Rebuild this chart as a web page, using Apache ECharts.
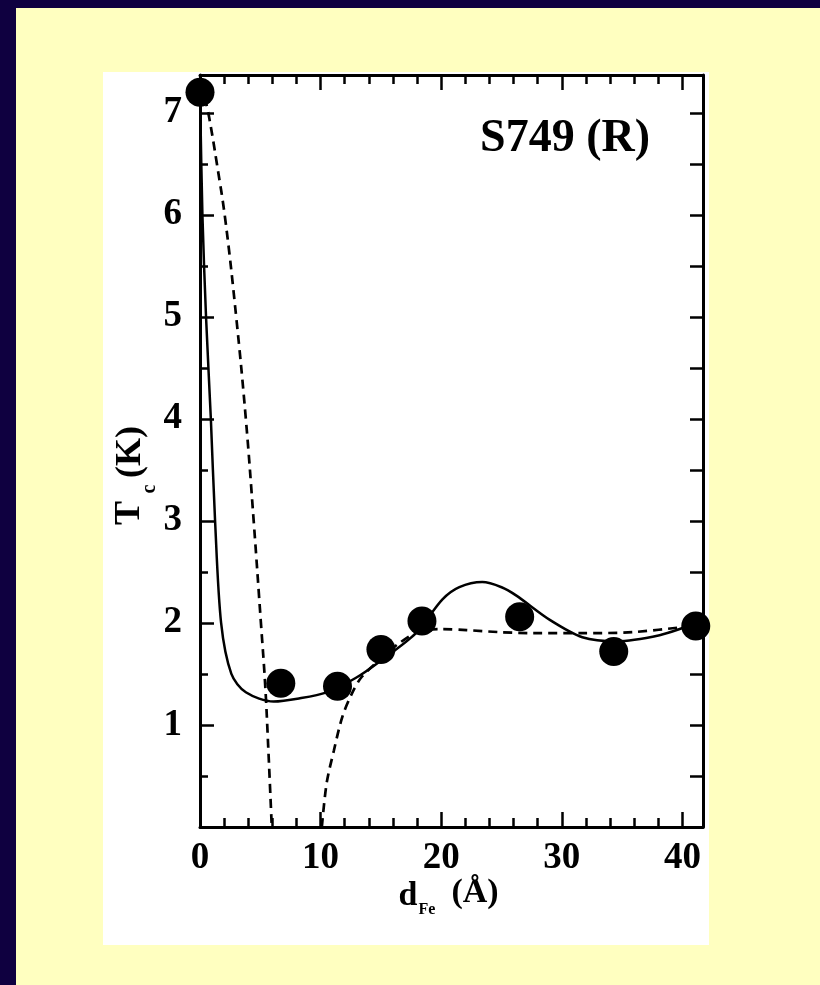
<!DOCTYPE html>
<html>
<head>
<meta charset="utf-8">
<script src="https://cdn.jsdelivr.net/npm/echarts@6/dist/echarts.min.js"></script>
<style>
  html, body { margin: 0; padding: 0; width: 820px; height: 985px; background: #0f0040; overflow: hidden; }
  .paper { position: absolute; left: 16px; top: 8px; right: 0; bottom: 0; background: #ffffc0; }
  .sheet { position: absolute; left: 103px; top: 72px; width: 606px; height: 873px; background: #ffffff; }
  #chart { position: absolute; left: 0; top: 0; width: 820px; height: 985px; }
</style>
</head>
<body>
<div class="paper"></div>
<div class="sheet"></div>
<div id="chart"></div>
<script>
// measured Tc points (d_Fe in Angstrom, Tc in K)
var dFe = [0, 6.7, 11.4, 15.0, 18.4, 26.5, 34.3, 41.1];
var tc = [7.2, 1.41, 1.38, 1.74, 2.02, 2.06, 1.72, 1.97];

// solid theory curve
var fitX = [0, 0.2, 0.5, 0.9, 1.25, 1.75, 2.6, 3.8, 6.1, 8.2, 10.5, 12.9, 15.1, 17.9, 20.1, 21.5, 23.4, 25.0, 26.2, 29.0, 31.7, 34.5, 38.1, 40.8, 41.7];
var fitY = [7.2, 6.0, 5.0, 4.0, 3.0, 2.0, 1.5, 1.32, 1.23, 1.26, 1.32, 1.46, 1.64, 1.9, 2.23, 2.35, 2.40, 2.35, 2.27, 2.03, 1.86, 1.82, 1.88, 1.98, 2.0];

// dashed curve, left branch
var dashAX = [0.4, 0.75, 1.4, 2.1, 3.0, 3.8, 4.45, 5.05, 5.4, 5.65, 5.95];
var dashAY = [7.15, 6.96, 6.5, 5.95, 5.0, 4.0, 3.0, 2.0, 1.4, 0.8, 0];

// dashed curve, right branch
var dashBX = [10.1, 10.5, 11.1, 11.8, 12.6, 13.4, 15.0, 16.5, 18.2, 20.1, 22.1, 24.8, 27.6, 31.7, 35.9, 40.8];
var dashBY = [0, 0.43, 0.75, 1.08, 1.31, 1.47, 1.65, 1.8, 1.92, 1.94, 1.93, 1.91, 1.9, 1.9, 1.91, 1.97];

var xTicks = [0, 10, 20, 30, 40];
var yTicks = [1, 2, 3, 4, 5, 6, 7];

function pairs(xs, ys) {
  return xs.map(function (x, i) { return [x, ys[i]]; });
}

var font = 'Liberation Serif';
var black = '#000';

var chart = echarts.init(document.getElementById('chart'));
chart.setOption({
  animation: false,
  backgroundColor: 'transparent',
  grid: { left: 200, top: 75, right: 117, bottom: 158 },
  xAxis: [
    {
      type: 'value', position: 'bottom', min: 0, max: 41.7, interval: 10,
      axisLine: { show: true, onZero: false, lineStyle: { color: black, width: 3 } },
      axisTick: { show: true, inside: true, length: 15, lineStyle: { color: black, width: 2.5 } },
      minorTick: { show: true, splitNumber: 5, length: 9, lineStyle: { color: black, width: 2.5 } },
      splitLine: { show: false },
      axisLabel: {
        margin: 13, color: black, fontFamily: font, fontWeight: 'bold', fontSize: 37,
        formatter: function (v) { return xTicks.indexOf(v) >= 0 ? String(v) : ''; }
      }
    },
    {
      type: 'value', position: 'top', min: 0, max: 41.7, interval: 10,
      axisLine: { show: true, onZero: false, lineStyle: { color: black, width: 3 } },
      axisTick: { show: true, inside: true, length: 15, lineStyle: { color: black, width: 2.5 } },
      minorTick: { show: true, splitNumber: 5, length: 9, lineStyle: { color: black, width: 2.5 } },
      splitLine: { show: false },
      axisLabel: { show: false }
    }
  ],
  yAxis: [
    {
      type: 'value', position: 'left', min: 0, max: 7.37, interval: 1,
      axisLine: { show: true, onZero: false, lineStyle: { color: black, width: 3 } },
      axisTick: { show: true, inside: true, length: 14, lineStyle: { color: black, width: 2.5 } },
      minorTick: { show: true, splitNumber: 2, length: 8, lineStyle: { color: black, width: 2.5 } },
      splitLine: { show: false },
      axisLabel: {
        margin: 18, color: black, fontFamily: font, fontWeight: 'bold', fontSize: 37,
        formatter: function (v) { return yTicks.indexOf(v) >= 0 ? String(v) : ''; }
      }
    },
    {
      type: 'value', position: 'right', min: 0, max: 7.37, interval: 0.5,
      axisLine: { show: true, onZero: false, lineStyle: { color: black, width: 3 } },
      axisTick: { show: true, inside: true, length: 13, lineStyle: { color: black, width: 2.5 } },
      splitLine: { show: false },
      axisLabel: { show: false }
    }
  ],
  graphic: [
    {
      type: 'text', x: 650, y: 139,
      style: { text: 'S749 (R)', align: 'right', verticalAlign: 'middle', fill: black, font: 'bold 46px "Liberation Serif"' }
    },
    { type: 'text', x: 130, y: 513, rotation: Math.PI / 2,
      style: { text: 'T', align: 'center', verticalAlign: 'middle', fill: black, font: 'bold 36px "Liberation Serif"' } },
    { type: 'text', x: 150, y: 489, rotation: Math.PI / 2,
      style: { text: 'c', align: 'center', verticalAlign: 'middle', fill: black, font: 'bold 20px "Liberation Serif"' } },
    { type: 'text', x: 131, y: 452, rotation: Math.PI / 2,
      style: { text: '(K)', align: 'center', verticalAlign: 'middle', fill: black, font: 'bold 36px "Liberation Serif"' } },
    { type: 'text', x: 408, y: 896,
      style: { text: 'd', align: 'center', verticalAlign: 'middle', fill: black, font: 'bold 34px "Liberation Serif"' } },
    { type: 'text', x: 427, y: 910,
      style: { text: 'Fe', align: 'center', verticalAlign: 'middle', fill: black, font: 'bold 16px "Liberation Serif"' } },
    { type: 'text', x: 475, y: 893,
      style: { text: '(Å)', align: 'center', verticalAlign: 'middle', fill: black, font: 'bold 34px "Liberation Serif"' } }
  ],
  series: [
    {
      name: 'fit', type: 'line', data: pairs(fitX, fitY), smooth: 0.3, symbol: 'none',
      lineStyle: { color: black, width: 2.5 }, z: 3
    },
    {
      name: 'dashA', type: 'line', data: pairs(dashAX, dashAY), smooth: 0.4, symbol: 'none',
      lineStyle: { color: black, width: 2.7, type: [9, 6] }, z: 3
    },
    {
      name: 'dashB', type: 'line', data: pairs(dashBX, dashBY), smooth: 0.3, symbol: 'none',
      lineStyle: { color: black, width: 2.7, type: [9, 6] }, z: 3
    },
    {
      name: 'Tc', type: 'scatter', data: pairs(dFe, tc), symbol: 'circle', symbolSize: 29,
      itemStyle: { color: black, opacity: 1 }, clip: false, z: 5
    }
  ]
});
</script>
</body>
</html>
